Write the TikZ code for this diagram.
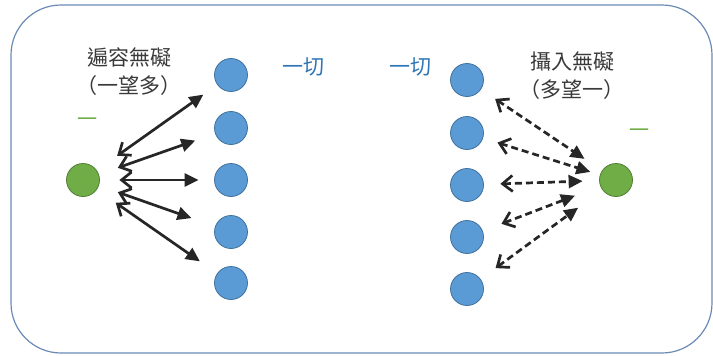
\documentclass[tikz,border=0pt]{standalone}
\usepackage{fontspec}
\newfontfamily\cjk{Noto Sans CJK TC}
\usetikzlibrary{arrows.meta}
\definecolor{bluefill}{HTML}{5B9BD5}
\definecolor{blueline}{HTML}{41719C}
\definecolor{greenfill}{HTML}{70AD47}
\definecolor{greenline}{HTML}{507E32}
\definecolor{bluetext}{HTML}{2E75B6}
\definecolor{titletext}{HTML}{3A3A3A}
\definecolor{arrowgray}{HTML}{262626}
\definecolor{frameline}{HTML}{6A8BB5}
\tikzset{
	yi/.style={circle,draw=greenline,fill=greenfill,line width=0.8pt,minimum size=33pt,inner sep=0pt},
	qie/.style={circle,draw=blueline,fill=bluefill,line width=0.8pt,minimum size=33pt,inner sep=0pt},
	title/.style={font=\cjk\fontsize{21}{28}\selectfont,text=titletext,align=center,inner sep=0pt},
	link/.style={draw=arrowgray,line width=2.7pt,{Straight Barb[length=10pt,width=16pt]}-{Triangle[length=14pt,width=13pt]}},
	dlink/.style={link,dash pattern=on 7pt off 4pt}
}

\begin{document}
\begin{tikzpicture}[x=1pt,y=-1pt]
				%%%%% START %%%%%
				\def\xl{83}
				\def\xb{231}
				\def\xc{467}
				\def\xr{616}
				\useasboundingbox (0,0) rectangle (713,356);
				\draw[frameline,line width=1.2pt,rounded corners=50pt] (11,5) rectangle (712,353);

				% left: one to many
				\node[yi] (g) at (\xl,180) {};
				\node[qie] (b1) at (\xb,75) {};
				\node[qie] (b2) at (\xb,128) {};
				\node[qie] (b3) at (\xb,180) {};
				\node[qie] (b4) at (\xb,232) {};
				\node[qie] (b5) at (\xb,283) {};

				\node[title] (ltitle) at (129,72) {遍容無礙\\（一望多）};
				\node[font=\cjk\fontsize{20}{24}\selectfont,text=greenfill] (lyi) at (87,122) {一};
				\node[font=\cjk\fontsize{21}{24}\selectfont,text=bluetext] (lqie) at (303,67) {一切};

				\draw[link,shorten <=25pt,shorten >=17pt] (g) -- (b1);
				\draw[link,shorten <=20pt,shorten >=21pt] (g) -- (b2);
				\draw[link,shorten <=19.5pt,shorten >=15.5pt] (g) -- (b3);
				\draw[link,shorten <=20pt,shorten >=25pt] (g) -- (b4);
				\draw[link,shorten <=23pt,shorten >=21pt] (g) -- (b5);

				% right: many to one
				\node[yi] (G) at (\xr,180) {};
				\node[qie] (c1) at (\xc,80) {};
				\node[qie] (c2) at (\xc,133) {};
				\node[qie] (c3) at (\xc,185) {};
				\node[qie] (c4) at (\xc,237) {};
				\node[qie] (c5) at (\xc,289) {};

				\node[title] (rtitle) at (572,76) {攝入無礙\\（多望一）};
				\node[font=\cjk\fontsize{20}{24}\selectfont,text=greenfill] (ryi) at (639,133) {一};
				\node[font=\cjk\fontsize{21}{24}\selectfont,text=bluetext] (rqie) at (410,67) {一切};

				\draw[dlink,shorten <=17pt,shorten >=21pt] (c1) -- (G);
				\draw[dlink,shorten <=15pt,shorten >=10pt] (c2) -- (G);
				\draw[dlink,shorten <=16.5pt,shorten >=16.5pt] (c3) -- (G);
				\draw[dlink,shorten <=20pt,shorten >=27pt] (c4) -- (G);
				\draw[dlink,shorten <=18.5pt,shorten >=30pt] (c5) -- (G);
				%%%%% END %%%%%
\end{tikzpicture}
\end{document}
